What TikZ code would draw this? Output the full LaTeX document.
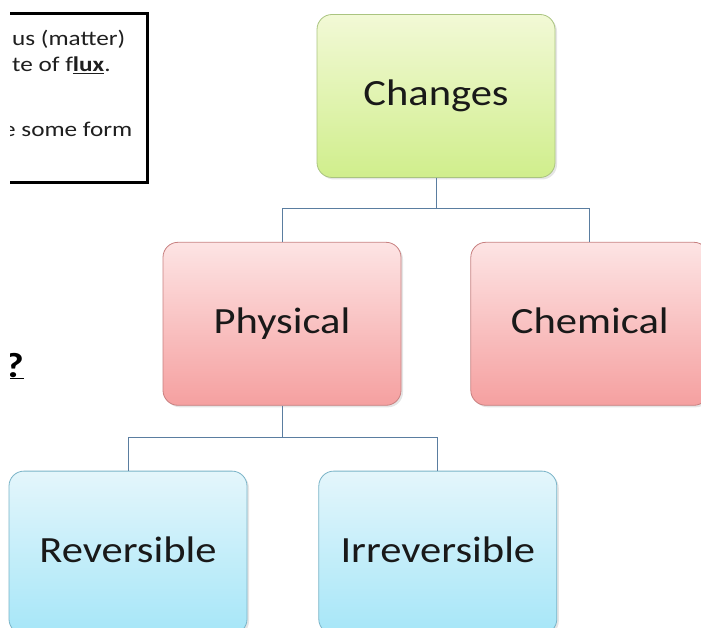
\documentclass[tikz,border=0pt]{standalone}
\usepackage{xcolor}
\usepackage{fontspec}
\setmainfont{Carlito}
\newfontfamily\boxfont[FakeStretch=1.15]{Carlito}
\newfontfamily\notefont[FakeStretch=1.2]{Carlito}
\usepackage{tikz}
\usetikzlibrary{positioning, shadows}

\definecolor{greentop}{RGB}{242,249,214}
\definecolor{greenbot}{RGB}{208,238,140}
\definecolor{greenline}{RGB}{170,196,128}
\definecolor{redtop}{RGB}{253,228,228}
\definecolor{redbot}{RGB}{245,160,160}
\definecolor{redline}{RGB}{200,128,128}
\definecolor{bluetop}{RGB}{228,246,251}
\definecolor{bluebot}{RGB}{166,230,248}
\definecolor{blueline}{RGB}{122,180,200}
\definecolor{linkcol}{RGB}{90,125,160}

\tikzset{
  basebox/.style={rectangle, rounded corners=15pt, minimum width=238pt,
    minimum height=163pt, inner sep=0pt, line width=0.8pt,
    font=\boxfont\fontsize{37}{40}\selectfont, text=black!90,
    text height=28pt, text depth=8pt,
    drop shadow={opacity=0.2, shadow xshift=2pt, shadow yshift=-2pt}},
  changebox/.style={basebox, draw=greenline, top color=greentop, bottom color=greenbot},
  physbox/.style={basebox, draw=redline, top color=redtop, bottom color=redbot},
  revbox/.style={basebox, draw=blueline, top color=bluetop, bottom color=bluebot},
  linkline/.style={draw=linkcol, line width=0.9pt},
  notetext/.style={inner sep=0pt, anchor=base west, text=black!88,
    font=\notefont\fontsize{21}{24}\selectfont}
}

\begin{document}
\begin{tikzpicture}[x=1pt, y=1pt]
        \clip (0,0) rectangle (701,-628);
        \fill[white] (0,0) rectangle (701,-628);
%
        \begin{scope}
          \clip (10,0) rectangle (200,-628);
          \draw[line width=3pt] (0,-13.5) -- (147,-13.5) -- (147,-183) -- (0,-183);
          \node[notetext] (noteA) at (12,-46) {us (matter)};
          \node[notetext] (noteB) at (12,-72) {te of f\underline{\textbf{lux}}.};
          \node[notetext] (noteC) at (3,-137) {e some form};
          \node[inner sep=0pt, anchor=base east, font=\notefont\fontsize{35}{36}\selectfont\bfseries]
            (quest) at (24,-377) {\underline{?}};
        \end{scope}
%
        \node[changebox] (changes) at (436,-96) {Changes};
        \node[physbox, below=64pt of changes, xshift=-154pt] (physical) {Physical};
        \node[physbox, right=69pt of physical] (chemical) {Chemical};
        \node[revbox, below=65pt of physical, xshift=-154pt] (reversible) {Reversible};
        \node[revbox, right=71pt of reversible] (irreversible) {Irreversible};
%
        \draw[linkline] (changes.south) -- ++(0,-31) coordinate (jA);
        \draw[linkline] (physical.north) |- (jA) -| (chemical.north);
        \draw[linkline] (physical.south) -- ++(0,-32) coordinate (jB);
        \draw[linkline] (reversible.north) |- (jB) -| (irreversible.north);
\end{tikzpicture}
\end{document}
